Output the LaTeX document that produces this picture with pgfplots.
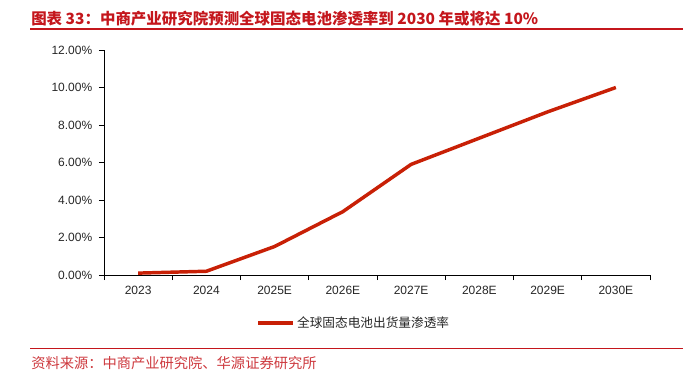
\documentclass[border=0pt]{standalone}
\usepackage{pgfplots}
\pgfplotsset{compat=1.18}
\usepackage{fontspec}
\setmainfont{Liberation Sans}
\newfontfamily\cjk{Noto Sans CJK SC}
\definecolor{hred}{RGB}{196,22,28}
\definecolor{lred}{RGB}{200,32,6}
\begin{document}
\begin{tikzpicture}[x=0.75pt,y=0.75pt]
\path[use as bounding box] (0,0) rectangle (697,375);
% title and rules (y measured from bottom: 375 - top)
\node[anchor=west,text=hred,font=\cjk\bfseries\fontsize{11.6pt}{13pt}\selectfont,inner sep=0] at (31,356.5) {图表 33：中商产业研究院预测全球固态电池渗透率到 2030 年或将达 10\%};
\draw[hred,line width=0.9pt] (30,346) -- (683,346);
\draw[hred,line width=0.9pt] (30,26.5) -- (683,26.5);
\node[anchor=west,text=hred!85,font=\cjk\fontsize{10.7pt}{12pt}\selectfont,inner sep=0] at (31,12) {资料来源：中商产业研究院、华源证券研究所};
\begin{axis}[
  at={(78pt,75pt)}, anchor=south west,
  scale only axis, width=409.5pt, height=168.75pt,
  xmin=-0.5, xmax=7.5, ymin=0, ymax=12,
  axis lines*=left,
  axis line style={black, line width=0.6pt},
  xtick={0,...,7},
  xticklabels={2023,2024,2025E,2026E,2027E,2028E,2029E,2030E},
  minor xtick={-0.5,0.5,...,7.5},
  ytick={0,2,...,12},
  yticklabels={0.00\%,2.00\%,4.00\%,6.00\%,8.00\%,10.00\%,12.00\%},
  major x tick style={draw=none},
  tick align=outside,
  major tick length=3.8pt, minor tick length=3.8pt,
  tick style={black, line width=0.6pt},
  tick label style={font=\fontsize{9pt}{10pt}\selectfont, text=black!85},
  xticklabel style={yshift=-1pt},
  yticklabel style={xshift=-1.5pt},
  legend style={at={(0.458,-0.213)}, anchor=center, draw=none, fill=none,
    font=\cjk\fontsize{9.5pt}{11pt}\selectfont, text=black!85},
  legend image code/.code={\draw[#1] (0pt,0pt) -- (26pt,0pt);},
  legend cell align=left,
  clip=false,
]
\addplot[lred, line width=2.6pt, line join=round] coordinates {
(0,0.10) (1,0.20) (2,1.52) (3,3.38) (4,5.90) (5,7.30) (6,8.70) (7,10.00)
};
\addlegendentry{全球固态电池出货量渗透率}
\end{axis}
\end{tikzpicture}
\end{document}
